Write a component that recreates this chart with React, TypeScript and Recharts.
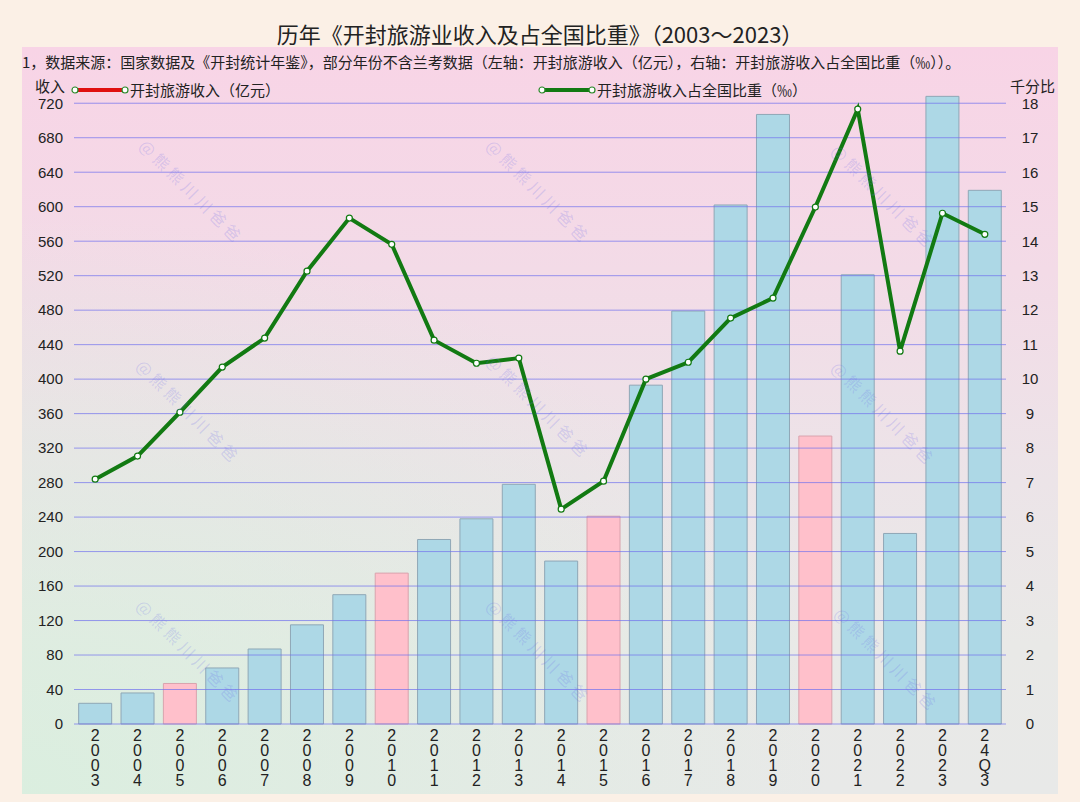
import {
  ComposedChart,
  Bar,
  Line,
  XAxis,
  YAxis,
  ReferenceLine,
  Legend,
  Cell,
} from "recharts";

const years = [
  "2003", "2004", "2005", "2006", "2007", "2008", "2009", "2010", "2011", "2012", "2013",
  "2014", "2015", "2016", "2017", "2018", "2019", "2020", "2021", "2022", "2023", "24Q3",
];
// 开封旅游收入（亿元）
const income = [
  24, 36, 47, 65, 87, 115, 150, 175, 214, 238, 278,
  189, 241, 393, 479, 602, 707, 334, 521, 221, 728, 619,
];
// 占全国比重（‰）
const share = [
  7.1, 7.77, 9.04, 10.35, 11.19, 13.13, 14.67, 13.91, 11.13, 10.46, 10.61,
  6.23, 7.04, 10.0, 10.49, 11.77, 12.35, 14.99, 17.83, 10.81, 14.81, 14.2,
];
const pinkYears = ["2005", "2010", "2015", "2020"];
const leftTicks = [0, 40, 80, 120, 160, 200, 240, 280, 320, 360, 400, 440, 480, 520, 560, 600, 640, 680, 720];
const rightTicks = [0, 1, 2, 3, 4, 5, 6, 7, 8, 9, 10, 11, 12, 13, 14, 15, 16, 17, 18];

const data = years.map((y, i) => ({ year: y, income: income[i], share: share[i] }));

const FONT = '"Liberation Sans", "Noto Sans CJK SC", sans-serif';
const CJK = '"Noto Sans CJK SC", "Liberation Sans", sans-serif';

const watermarks = [
  [143, 140], [490, 140], [835, 145],
  [140, 360], [490, 355], [835, 362],
  [140, 600], [490, 600], [838, 608],
];

function YearTick(props: any) {
  const { x, y, payload } = props;
  const chars = String(payload.value).split("");
  return (
    <g>
      {chars.map((c, i) => (
        <text
          key={i}
          x={x}
          y={y + 9 + i * 15}
          textAnchor="middle"
          fontSize={16}
          fill="#222"
          fontFamily={FONT}
        >
          {c}
        </text>
      ))}
    </g>
  );
}

function LegendIcon({ color }: { color: string }) {
  return (
    <svg width={58} height={10} style={{ display: "block" }}>
      <line x1={4} y1={5} x2={54} y2={5} stroke={color} strokeWidth={4} />
      <circle cx={4} cy={5} r={3} fill="#fff" stroke="#2a8a2a" strokeWidth={1.2} />
      <circle cx={54} cy={5} r={3} fill="#fff" stroke="#2a8a2a" strokeWidth={1.2} />
    </svg>
  );
}

function renderLegend() {
  return (
    <div style={{ position: "relative", width: 1080, height: 20, fontFamily: CJK, fontSize: 15, color: "#222" }}>
      <div style={{ position: "absolute", left: 71, top: 0, display: "flex", alignItems: "center" }}>
        <LegendIcon color="#e01010" />
        <span style={{ marginLeft: 1 }}>开封旅游收入（亿元）</span>
      </div>
      <div style={{ position: "absolute", left: 538, top: 0, display: "flex", alignItems: "center" }}>
        <LegendIcon color="#127a12" />
        <span style={{ marginLeft: 1 }}>开封旅游收入占全国比重（‰）</span>
      </div>
    </div>
  );
}

export default function App() {
  return (
    <div
      style={{
        position: "absolute",
        left: 0,
        top: 0,
        width: 1080,
        height: 802,
        background: "#fbf0e6",
        overflow: "hidden",
        fontFamily: CJK,
      }}
    >
      <div
        style={{
          position: "absolute",
          left: 22,
          top: 47,
          width: 1036,
          height: 747,
          background:
            "radial-gradient(ellipse at 0% 100%, rgba(214,240,220,0.75) 0%, rgba(214,240,220,0) 55%), linear-gradient(to bottom, #f8d4e6 0%, #f3dbe7 30%, #ece4e8 58%, #e9e9e7 80%, #e8e9e8 100%)",
        }}
      />
      <div
        style={{
          position: "absolute",
          left: 0,
          top: 18,
          width: 1080,
          textAlign: "center",
          fontSize: 22,
          color: "#222",
          lineHeight: "30px",
        }}
      >
        历年《开封旅游业收入及占全国比重》（2003～2023）
      </div>
      <div
        style={{
          position: "absolute",
          left: 22,
          top: 51,
          fontSize: 15,
          color: "#222",
          lineHeight: "22px",
          whiteSpace: "nowrap",
        }}
      >
        1，数据来源：国家数据及《开封统计年鉴》，部分年份不含兰考数据（左轴：开封旅游收入（亿元），右轴：开封旅游收入占全国比重（‰））。
      </div>
      <div style={{ position: "absolute", left: 35, top: 76, fontSize: 15, lineHeight: "20px", color: "#222" }}>收入</div>
      <div style={{ position: "absolute", left: 1010, top: 76, fontSize: 15, lineHeight: "20px", color: "#222" }}>千分比</div>
      <div style={{ position: "absolute", left: 0, top: 0 }}>
        <ComposedChart
          width={1080}
          height={802}
          data={data}
          margin={{ top: 86, right: 24, bottom: 8, left: 24 }}
          barCategoryGap="11%"
        >
          <XAxis
            dataKey="year"
            axisLine={false}
            tickLine={false}
            interval={0}
            height={70}
            tick={<YearTick />}
          />
          <YAxis
            yAxisId="left"
            orientation="left"
            width={50}
            domain={[0, 740]}
            ticks={leftTicks}
            axisLine={false}
            tickLine={false}
            tick={{ fill: "#222", fontSize: 15, fontFamily: FONT, dx: -3 } as any}
          />
          <YAxis
            yAxisId="right"
            orientation="right"
            width={50}
            domain={[0, 18.5]}
            ticks={rightTicks}
            axisLine={false}
            tickLine={false}
            tick={{ fill: "#222", fontSize: 15, fontFamily: FONT, textAnchor: "middle", dx: 16 } as any}
          />
          <Legend
            layout="horizontal"
            verticalAlign="middle"
            align="center"
            content={renderLegend}
            wrapperStyle={{ top: 79, left: 0, width: 1080 }}
          />
          <Bar yAxisId="left" dataKey="income" stroke="#8fa7b6" strokeWidth={1} isAnimationActive={false}>
            {data.map((d) => (
              <Cell
                key={d.year}
                fill={pinkYears.includes(d.year) ? "#ffc0cb" : "#add8e6"}
                stroke={pinkYears.includes(d.year) ? "#d9a3ad" : "#8fa7b6"}
              />
            ))}
          </Bar>
          {leftTicks.map((t) => (
            <ReferenceLine key={t} yAxisId="left" y={t} stroke="#7070ee" strokeOpacity={0.7} strokeWidth={1} />
          ))}
          <Line
            yAxisId="right"
            dataKey="share"
            stroke="#127a12"
            strokeWidth={4}
            dot={{ r: 3, fill: "#fff", stroke: "#127a12", strokeWidth: 1.2 }}
            isAnimationActive={false}
          />
        </ComposedChart>
      </div>
      {watermarks.map(([x, y], i) => (
        <div
          key={i}
          style={{
            position: "absolute",
            left: x,
            top: y - 10,
            fontSize: 16,
            letterSpacing: 4,
            color: "rgba(110,110,235,0.22)",
            transform: "rotate(45deg)",
            transformOrigin: "left center",
            whiteSpace: "nowrap",
            pointerEvents: "none",
          }}
        >
          @熊熊川川爸爸
        </div>
      ))}
    </div>
  );
}
